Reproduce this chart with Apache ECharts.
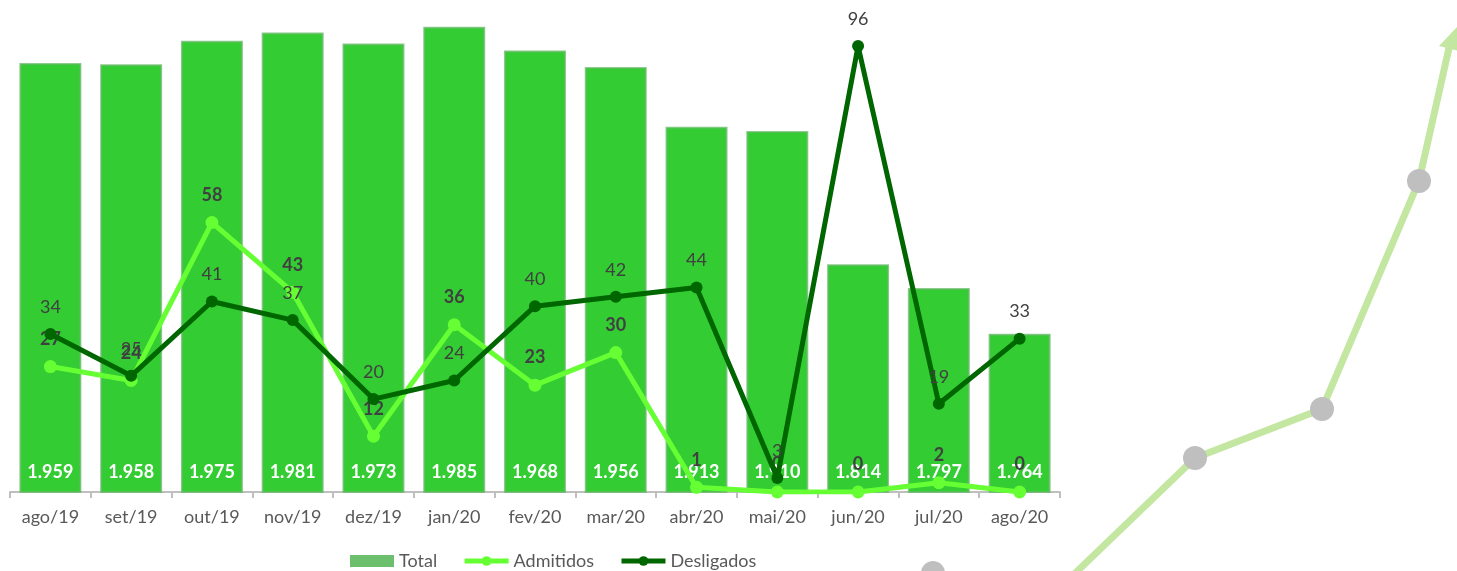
<!DOCTYPE html>
<html>
<head>
<meta charset="utf-8">
<script src="https://cdn.jsdelivr.net/npm/echarts@6/dist/echarts.min.js"></script>
<style>
html,body{margin:0;padding:0;background:#fff;}
#chart{width:1457px;height:571px;}
</style>
</head>
<body>
<div id="chart"></div>
<script>
const categories = ['ago/19','set/19','out/19','nov/19','dez/19','jan/20','fev/20','mar/20','abr/20','mai/20','jun/20','jul/20','ago/20'];
const total = [1959,1958,1975,1981,1973,1985,1968,1956,1913,1910,1814,1797,1764];
const admitidos = [27,24,58,43,12,36,23,30,1,0,0,2,0];
const desligados = [34,25,41,37,20,24,40,42,44,3,96,19,33];

const FONT = 'Lato, "Open Sans", sans-serif';
const chart = echarts.init(document.getElementById('chart'));

function fmtPt(v){ return String(v).replace(/\B(?=(\d{3})+(?!\d))/g, '.'); }

const option = {
  animation: false,
  textStyle: { fontFamily: FONT },
  grid: { left: 10, right: 397, top: 6, bottom: 79, containLabel: false },
  legend: {
    left: 345, top: 547,
    itemWidth: 44, itemHeight: 12, itemGap: 25,
    textStyle: { fontSize: 18, color: '#595959', fontFamily: FONT },
    data: [
      { name: 'Total', icon: 'rect', itemStyle: { color: '#6cbf6c', borderWidth: 0 } },
      { name: 'Admitidos', lineStyle: { width: 5 } },
      { name: 'Desligados', lineStyle: { width: 5 } }
    ]
  },
  xAxis: {
    type: 'category',
    data: categories,
    boundaryGap: true,
    axisLine: { lineStyle: { color: '#bfbfbf', width: 2 } },
    axisTick: { show: true, alignWithLabel: false, length: 6, lineStyle: { color: '#bfbfbf', width: 2 } },
    axisLabel: { color: '#595959', fontSize: 18, margin: 16, fontFamily: FONT }
  },
  yAxis: [
    { type: 'value', min: 1650, max: 2000, show: false, splitLine: { show: false } },
    { type: 'value', min: 0, max: 104.6, show: false, splitLine: { show: false } }
  ],
  series: [
    {
      name: 'Total', type: 'bar', yAxisIndex: 0, data: total, barWidth: 62,
      itemStyle: { color: '#33cc33', borderColor: 'rgba(100,185,100,0.75)', borderWidth: 2 },
      label: {
        show: true, position: 'insideBottom', distance: 12,
        color: '#ffffff', fontWeight: 'bold', fontSize: 18, fontFamily: FONT,
        formatter: p => fmtPt(p.value)
      },
      z: 2
    },
    {
      name: 'Admitidos', type: 'line', yAxisIndex: 1, data: admitidos,
      symbol: 'circle', symbolSize: 13,
      lineStyle: { color: '#66ff33', width: 5 },
      itemStyle: { color: '#66ff33' },
      label: { show: true, position: 'top', distance: 12, color: '#404040', fontWeight: 'bold', fontSize: 18, fontFamily: FONT },
      z: 3
    },
    {
      name: 'Desligados', type: 'line', yAxisIndex: 1, data: desligados,
      symbol: 'circle', symbolSize: 12,
      lineStyle: { color: '#006600', width: 5 },
      itemStyle: { color: '#006600' },
      label: { show: true, position: 'top', distance: 12, color: '#404040', fontWeight: 'normal', fontSize: 18, fontFamily: FONT },
      z: 4
    }
  ],
  graphic: [
    { type: 'circle', shape: { cx: 933, cy: 573, r: 12 }, style: { fill: '#bfbfbf' }, z: 1 },
    { type: 'polyline', shape: { points: [[1066,582],[1195,458],[1322,409],[1419,181],[1449,48]] },
      style: { stroke: '#c3e6a1', lineWidth: 7, fill: null }, z: 1 },
    { type: 'polygon', shape: { points: [[1458,26],[1463,52],[1439,46]] }, style: { fill: '#c3e6a1' }, z: 1 },
    { type: 'circle', shape: { cx: 1195, cy: 458, r: 12 }, style: { fill: '#bfbfbf' }, z: 2 },
    { type: 'circle', shape: { cx: 1322, cy: 409, r: 12 }, style: { fill: '#bfbfbf' }, z: 2 },
    { type: 'circle', shape: { cx: 1419, cy: 181, r: 12 }, style: { fill: '#bfbfbf' }, z: 2 }
  ]
};
chart.setOption(option);
</script>
</body>
</html>
